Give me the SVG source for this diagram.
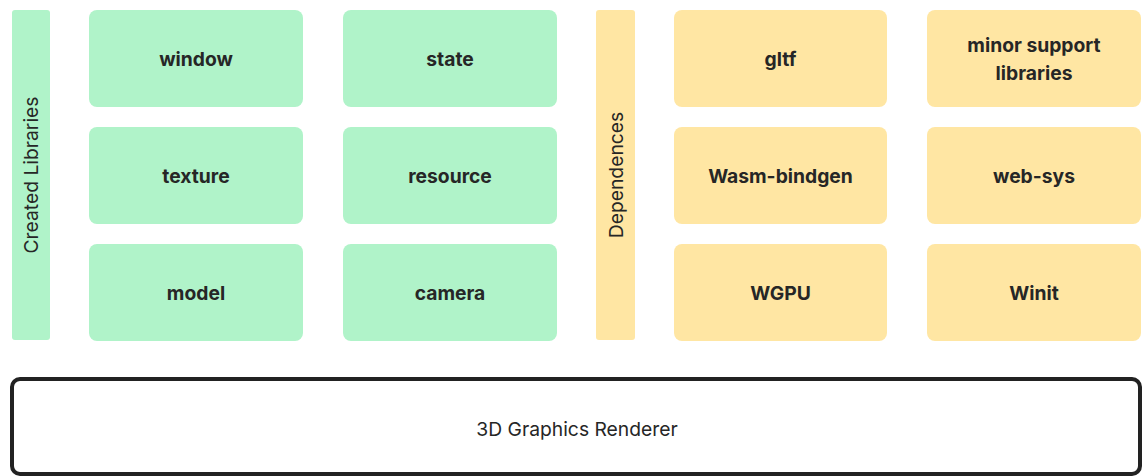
<svg xmlns="http://www.w3.org/2000/svg" width="1142" height="476" viewBox="0 0 1142 476">
  <style>
    .lib { fill: #B0F3C9; }
    .dep { fill: #FFE6A3; }
    .lbl { font-family: Inter, "Liberation Sans", sans-serif; font-size: 19.3px; font-weight: 700; fill: #262626; text-anchor: middle; dominant-baseline: central; }
    .side { font-family: Inter, "Liberation Sans", sans-serif; font-size: 19.3px; font-weight: 400; fill: #262626; text-anchor: middle; dominant-baseline: central; }
  </style>
  <rect width="1142" height="476" fill="#ffffff"/>

  <!-- created libraries -->
  <g id="created-libraries">
    <rect class="lib" x="12" y="10" width="38" height="330" rx="3"/>
    <text class="side" transform="translate(31 175) rotate(-90)">Created Libraries</text>
  </g>
  <g id="window"><rect class="lib" x="89" y="10" width="214" height="97" rx="8"/><text class="lbl" x="196" y="59">window</text></g>
  <g id="texture"><rect class="lib" x="89" y="127" width="214" height="97" rx="8"/><text class="lbl" x="196" y="176">texture</text></g>
  <g id="model"><rect class="lib" x="89" y="244" width="214" height="97" rx="8"/><text class="lbl" x="196" y="293">model</text></g>
  <g id="state"><rect class="lib" x="343" y="10" width="214" height="97" rx="8"/><text class="lbl" x="450" y="59">state</text></g>
  <g id="resource"><rect class="lib" x="343" y="127" width="214" height="97" rx="8"/><text class="lbl" x="450" y="176">resource</text></g>
  <g id="camera"><rect class="lib" x="343" y="244" width="214" height="97" rx="8"/><text class="lbl" x="450" y="293">camera</text></g>

  <!-- dependences -->
  <g id="dependences">
    <rect class="dep" x="596" y="10" width="39" height="330" rx="3"/>
    <text class="side" transform="translate(615.5 175) rotate(-90)">Dependences</text>
  </g>
  <g id="gltf"><rect class="dep" x="674" y="10" width="213" height="97" rx="8"/><text class="lbl" x="780.5" y="59">gltf</text></g>
  <g id="wasm-bindgen"><rect class="dep" x="674" y="127" width="213" height="97" rx="8"/><text class="lbl" x="780.5" y="176">Wasm-bindgen</text></g>
  <g id="wgpu"><rect class="dep" x="674" y="244" width="213" height="97" rx="8"/><text class="lbl" x="780.5" y="293">WGPU</text></g>
  <g id="minor-support"><rect class="dep" x="927" y="10" width="214" height="97" rx="8"/><text class="lbl" x="1034" y="45">minor support</text><text class="lbl" x="1034" y="73">libraries</text></g>
  <g id="web-sys"><rect class="dep" x="927" y="127" width="214" height="97" rx="8"/><text class="lbl" x="1034" y="176">web-sys</text></g>
  <g id="winit"><rect class="dep" x="927" y="244" width="214" height="97" rx="8"/><text class="lbl" x="1034" y="293">Winit</text></g>

  <!-- renderer base -->
  <g id="renderer">
    <rect x="12" y="379" width="1128" height="95" rx="8" fill="#ffffff" stroke="#222222" stroke-width="4"/>
    <text class="side" x="577" y="429">3D Graphics Renderer</text>
  </g>

  <g id="connectors"/>
</svg>
